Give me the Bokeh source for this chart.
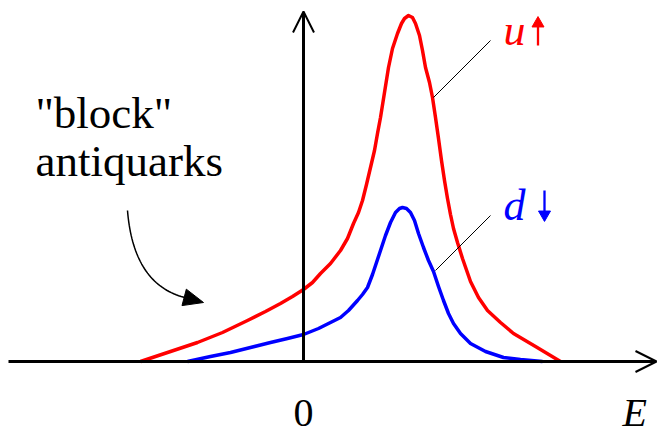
import numpy as np
from bokeh.plotting import figure
from bokeh.models import Range1d, Arrow, OpenHead, InlineStyleSheet
from bokeh.core.properties import value
from bokeh.embed import file_html
from bokeh.resources import INLINE

# Schematic spectral densities: energy E (arbitrary units, 0 at the vertical axis)
u_up_E = [-163, -133, -106, -81, -56, -38, -23, -11, 0, 9,
          17, 27, 37, 44, 50, 55, 59, 63, 67, 71,
          74, 77, 81, 85, 89, 94, 98, 101, 105, 109,
          112, 116, 119, 122, 126, 129, 132, 135, 138, 141,
          144, 147, 150, 154, 159, 167, 175, 184, 197, 210,
          232, 257]
u_up_rho = [0, 10, 19, 29, 41, 50, 58, 65, 72, 79,
            88, 98, 111, 123, 138, 149, 161, 177, 194, 211,
            228, 244, 269, 294, 313, 328, 338, 343, 346, 344,
            338, 326, 311, 294, 279, 264, 244, 223, 201, 181,
            163, 147, 133, 119, 103, 80, 64, 51, 39, 28,
            15, 0]

d_down_E = [-116, -93, -73, -53, -33, -16, 0, 15, 27, 37,
            45, 54, 59, 64, 69, 73, 77, 82, 87, 92,
            96, 99, 103, 107, 111, 115, 120, 125, 130, 135,
            140, 145, 150, 157, 167, 182, 200, 217, 239]
d_down_rho = [0, 5, 9, 14, 19, 23, 27, 33, 39, 44,
              51, 61, 67, 74, 87, 99, 111, 126, 139, 149,
              153, 154, 153, 149, 141, 128, 114, 101, 90, 75,
              61, 48, 38, 28, 18, 10, 4, 2, 0]

zero_label = "0"
axis_label = "E"
note_lines = ['"block"', "antiquarks"]

RED = "#ff0000"
BLUE = "#0000ff"

p = figure(width=660, height=435, x_range=Range1d(-303, 357),
           y_range=Range1d(-74, 361), x_axis_type=None, y_axis_type=None,
           output_backend="svg", toolbar_location=None, min_border=0)
p.outline_line_color = None
p.background_fill_color = "white"
p.border_fill_color = "white"
p.stylesheets = [InlineStyleSheet(css="text { font-family: 'Liberation Serif' !important; }")]


def add_text(x, y, text, color="black", size="40px", style="normal"):
    p.text(x=[x], y=[y], text=[text], text_color=color,
           text_font=value("Liberation Serif"), text_font_size=size,
           text_font_style=style, text_baseline="middle")


# labels
add_text(-268, 249, note_lines[0], size="45px")
add_text(-268, 201, note_lines[1], size="45px")
add_text(-10, -51, zero_label)
add_text(319, -51, axis_label, style="italic")
add_text(200, 331, "u", color=RED, size="44px", style="italic")
add_text(200, 156, "d", color=BLUE, size="44px", style="italic")

# the two curves
p.line(u_up_E, u_up_rho, line_color=RED, line_width=3.5, line_join="round")
p.line(d_down_E, d_down_rho, line_color=BLUE, line_width=3.5, line_join="round")

# coordinate axes with open arrow heads
p.add_layout(Arrow(x_start=-295, y_start=0, x_end=353, y_end=0,
                   line_width=3, line_color="black",
                   end=OpenHead(size=21, line_width=2, line_color="black")))
p.add_layout(Arrow(x_start=0, y_start=0, x_end=0, y_end=350,
                   line_width=3, line_color="black",
                   end=OpenHead(size=21, line_width=2, line_color="black")))

# leader lines to the curve labels
p.line([130, 187], [264, 321], line_color="black", line_width=1)
p.line([132, 187], [91, 146], line_color="black", line_width=1)

# spin arrows next to the curve labels
p.line([234.5, 234.5], [316, 336], line_color=RED, line_width=2.3)
p.scatter(x=[234.5], y=[338], marker="triangle", size=12,
          fill_color=RED, line_color=RED)
p.line([241, 241], [171, 149], line_color=BLUE, line_width=2.3)
p.scatter(x=[241], y=[147], marker="inverted_triangle", size=12,
          fill_color=BLUE, line_color=BLUE)

# curved pointer from the note towards the low-energy tail
t = np.linspace(0, 1, 40)
p0, pc, p1 = np.array([-176, 151]), np.array([-170, 76]), np.array([-117, 63.5])
curve = ((1 - t) ** 2)[:, None] * p0 + (2 * (1 - t) * t)[:, None] * pc + (t ** 2)[:, None] * p1
p.line(curve[:, 0], curve[:, 1], line_color="black", line_width=1.5)

tip = np.array([-100.0, 59.0])
direction = tip - p1
direction = direction / np.hypot(*direction)
normal = np.array([-direction[1], direction[0]])
base = tip - 20 * direction
head = np.array([tip, base + 8.5 * normal, base - 8.5 * normal])
p.patch(head[:, 0], head[:, 1], fill_color="black", line_color="black")

open("out.html", "w").write(file_html(p, INLINE))
